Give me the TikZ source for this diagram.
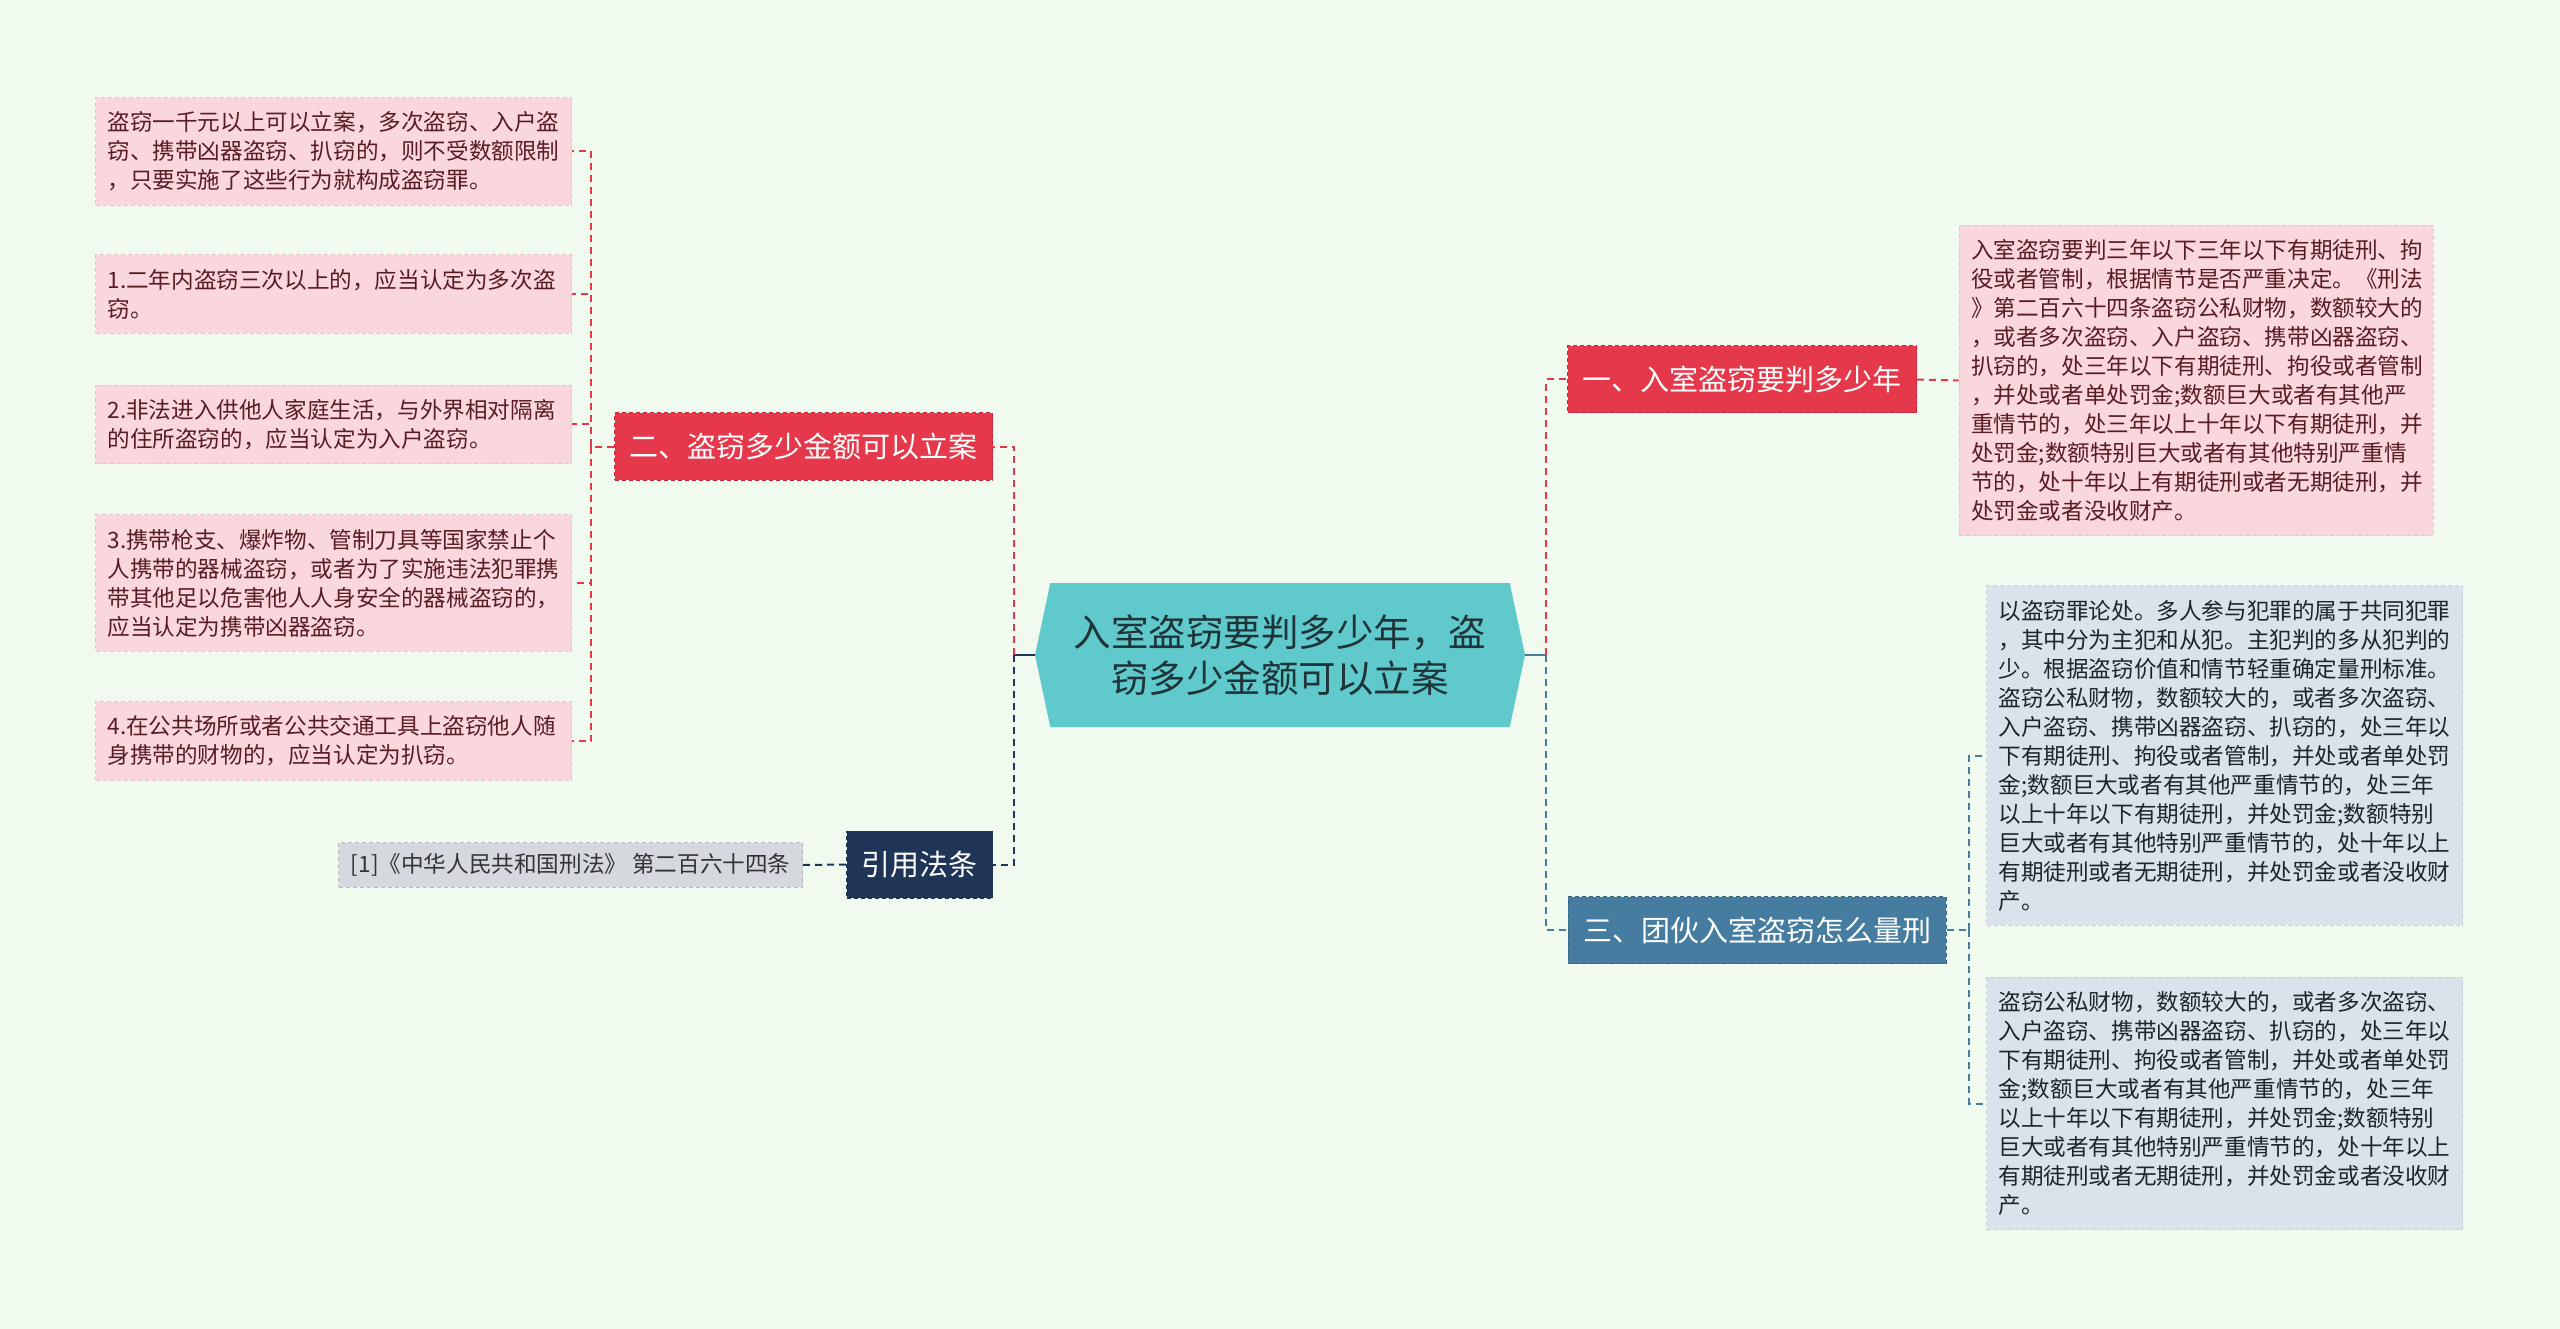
\documentclass[tikz,border=0pt]{standalone}
\usepackage{fontspec}
\setmainfont{Noto Sans CJK SC}
\usetikzlibrary{shapes.symbols}
\definecolor{bgmint}{RGB}{240,250,239}
\definecolor{teal}{RGB}{96,201,204}
\definecolor{tealtext}{RGB}{30,52,56}
\definecolor{redfill}{RGB}{229,57,75}
\definecolor{redline}{RGB}{200,38,56}
\definecolor{navy}{RGB}{30,53,87}
\definecolor{steel}{RGB}{69,124,160}
\definecolor{steelline}{RGB}{52,100,135}
\definecolor{leafpink}{RGB}{250,215,221}
\definecolor{leafpinkline}{RGB}{240,190,200}
\definecolor{leafpinktext}{RGB}{88,28,36}
\definecolor{leafblue}{RGB}{218,227,235}
\definecolor{leafblueline}{RGB}{195,208,220}
\definecolor{leafbluetext}{RGB}{28,36,46}
\definecolor{leafgray}{RGB}{213,216,222}
\begin{document}
\begin{tikzpicture}[x=1pt,y=-1pt,
  every node/.style={font=\fontsize{22.6}{29}\selectfont},
  leafbox/.style={align=left,text width=452pt,inner xsep=12pt,inner ysep=14pt,line width=1pt,dash pattern=on 4pt off 3pt},
  pinkleaf/.style={leafbox,fill=leafpink,draw=leafpinkline,text=leafpinktext},
  blueleaf/.style={leafbox,fill=leafblue,draw=leafblueline,text=leafbluetext},
  branch/.style={font=\fontsize{29}{34}\selectfont,text=white,inner xsep=15pt,minimum height=67pt,line width=1pt,dash pattern=on 4pt off 3pt},
  link/.style={line width=2pt,dash pattern=on 7pt off 5pt}]
\useasboundingbox[fill=bgmint] (0,0) rectangle (2560,1329);
% centre topic
\node[signal,signal to=west and east,signal pointer angle=156,fill=teal,text=tealtext,align=center,
  minimum width=490pt,minimum height=144pt,font=\fontsize{37.5}{46}\selectfont] (c) at (1280,655)
  {入室盗窃要判多少年，盗\\窃多少金额可以立案};
\coordinate (jl) at (1014,655); \coordinate (jr) at (1546,655);
% left: branch two and its leaves
\node[branch,fill=redfill,draw=redline] (b2) at (803.5,446.5) {二、盗窃多少金额可以立案};
\coordinate (t2) at (591,446.5);
\node[pinkleaf] (l1) at (333.5,151.5) {盗窃一千元以上可以立案，多次盗窃、入户盗\\窃、携带凶器盗窃、扒窃的，则不受数额限制\\，只要实施了这些行为就构成盗窃罪。};
\node[pinkleaf] (l2) at (333.5,294) {1.二年内盗窃三次以上的，应当认定为多次盗\\窃。};
\node[pinkleaf] (l3) at (333.5,424.5) {2.非法进入供他人家庭生活，与外界相对隔离\\的住所盗窃的，应当认定为入户盗窃。};
\node[pinkleaf] (l4) at (333.5,583) {3.携带枪支、爆炸物、管制刀具等国家禁止个\\人携带的器械盗窃，或者为了实施违法犯罪携\\带其他足以危害他人人身安全的器械盗窃的，\\应当认定为携带凶器盗窃。};
\node[pinkleaf] (l5) at (333.5,741) {4.在公共场所或者公共交通工具上盗窃他人随\\身携带的财物的，应当认定为扒窃。};
% left: cited law
\node[branch,fill=navy,draw=navy] (cite) at (919.5,864.5) {引用法条};
\node[fill=leafgray,draw=leafgray!85!black,line width=1pt,dash pattern=on 4pt off 3pt,text=black!80,inner xsep=12pt,inner ysep=11pt,anchor=east] (ref) at (803,865) {[1]《中华人民共和国刑法》 第二百六十四条};
% right: branch one
\node[branch,fill=redfill,draw=redline] (b1) at (1742,379.5) {一、入室盗窃要判多少年};
\node[pinkleaf,text width=450pt] (r1) at (2196,380.5) {入室盗窃要判三年以下三年以下有期徒刑、拘\\役或者管制，根据情节是否严重决定。《刑法\\》第二百六十四条盗窃公私财物，数额较大的\\，或者多次盗窃、入户盗窃、携带凶器盗窃、\\扒窃的，处三年以下有期徒刑、拘役或者管制\\，并处或者单处罚金;数额巨大或者有其他严\\重情节的，处三年以上十年以下有期徒刑，并\\处罚金;数额特别巨大或者有其他特别严重情\\节的，处十年以上有期徒刑或者无期徒刑，并\\处罚金或者没收财产。};
% right: branch three
\node[branch,fill=steel,draw=steelline] (b3) at (1757,930) {三、团伙入室盗窃怎么量刑};
\coordinate (t3) at (1969,930);
\node[blueleaf] (s1) at (2224.5,755.5) {以盗窃罪论处。多人参与犯罪的属于共同犯罪\\，其中分为主犯和从犯。主犯判的多从犯判的\\少。根据盗窃价值和情节轻重确定量刑标准。\\盗窃公私财物，数额较大的，或者多次盗窃、\\入户盗窃、携带凶器盗窃、扒窃的，处三年以\\下有期徒刑、拘役或者管制，并处或者单处罚\\金;数额巨大或者有其他严重情节的，处三年\\以上十年以下有期徒刑，并处罚金;数额特别\\巨大或者有其他特别严重情节的，处十年以上\\有期徒刑或者无期徒刑，并处罚金或者没收财\\产。};
\node[blueleaf] (s2) at (2224.5,1103.5) {盗窃公私财物，数额较大的，或者多次盗窃、\\入户盗窃、携带凶器盗窃、扒窃的，处三年以\\下有期徒刑、拘役或者管制，并处或者单处罚\\金;数额巨大或者有其他严重情节的，处三年\\以上十年以下有期徒刑，并处罚金;数额特别\\巨大或者有其他特别严重情节的，处十年以上\\有期徒刑或者无期徒刑，并处罚金或者没收财\\产。};
% connectors
\draw[navy,line width=2pt] (c.west) -- (jl);
\draw[steel,line width=2pt] (c.east) -- (jr);
\draw[link,redfill] (jl) |- (b2.east);
\draw[link,navy] (jl) |- (cite.east);
\draw[link,navy] (cite.west) -- (ref.east);
\draw[link,redfill] (b2.west) -- (t2);
\foreach \n in {1,...,5}{\draw[link,redfill] (t2) |- (l\n.east);}
\draw[link,redfill] (jr) |- (b1.west);
\draw[link,redfill] (b1.east) -- (r1.west);
\draw[link,steel] (jr) |- (b3.west);
\draw[link,steel] (b3.east) -- (t3);
\foreach \n in {1,2}{\draw[link,steel] (t3) |- (s\n.west);}
\end{tikzpicture}
\end{document}
